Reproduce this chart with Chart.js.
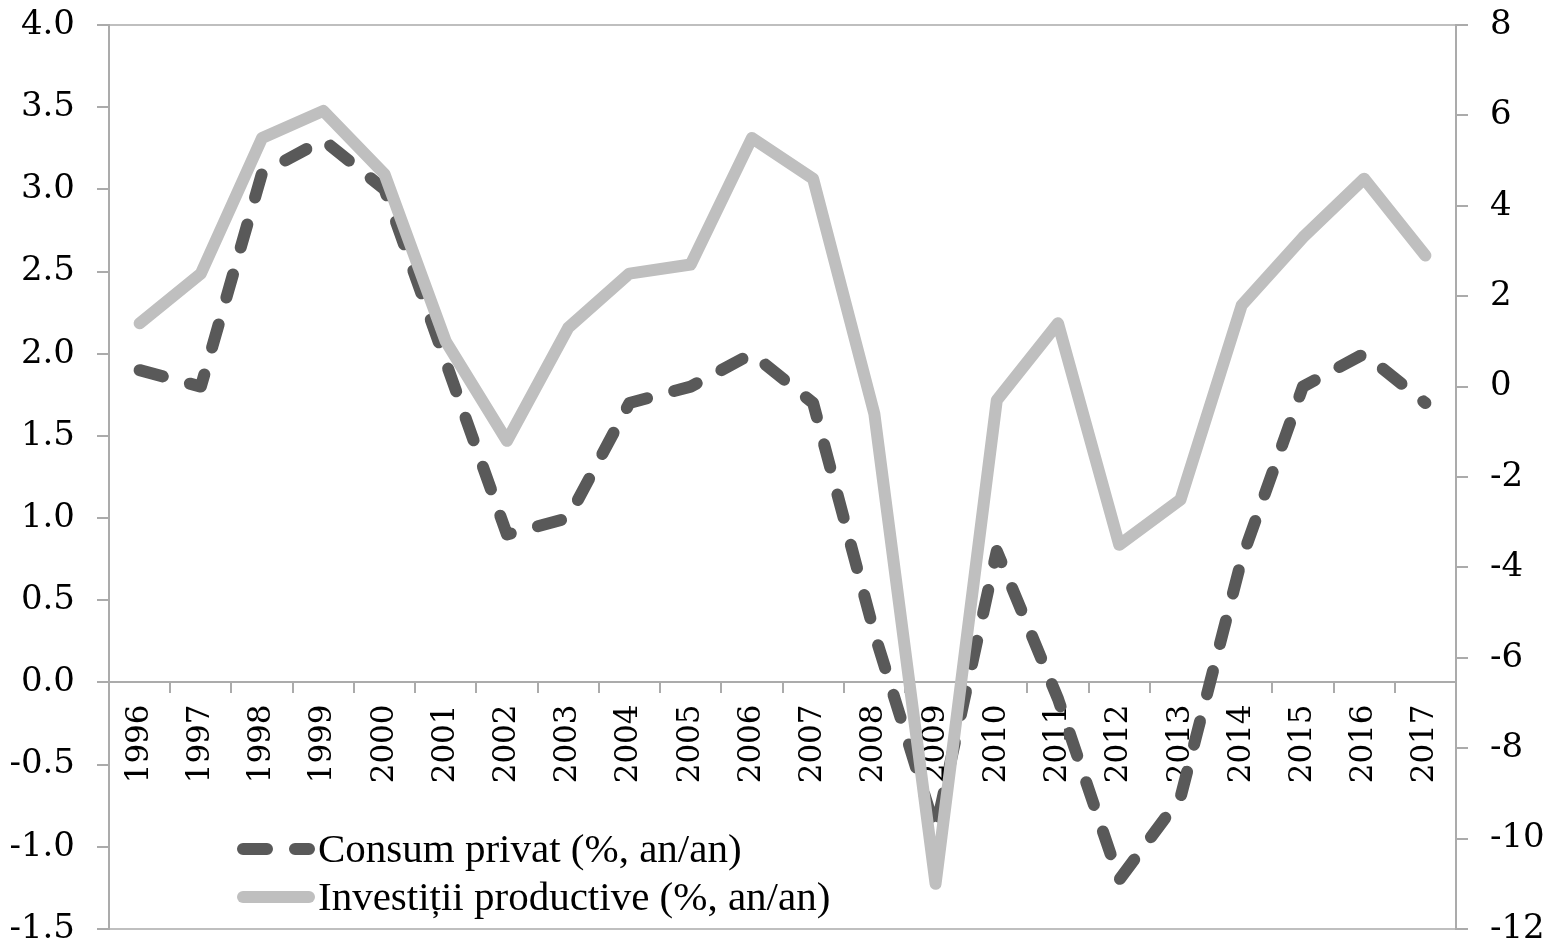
<!DOCTYPE html>
<html>
<head>
<meta charset="utf-8">
<script src="https://cdn.jsdelivr.net/npm/chart.js@4"></script>
<style>
  html, body { margin: 0; padding: 0; background: #fff; }
  #wrap { width: 1543px; height: 949px; position: relative; }
</style>
</head>
<body>
<div id="wrap"><canvas id="chart"></canvas></div>
<script>
// data
const years = ['1996', '1997', '1998', '1999', '2000', '2001', '2002', '2003', '2004', '2005', '2006',
               '2007', '2008', '2009', '2010', '2011', '2012', '2013', '2014', '2015', '2016', '2017'];
const consumPrivat = [1.9, 1.8, 3.1, 3.3, 3.0, 1.95, 0.9, 1.0, 1.7, 1.8, 2.0,
                      1.7, 0.3, -0.9, 0.8, -0.1, -1.2, -0.7, 0.75, 1.8, 2.0, 1.7];
const investitii = [1.4, 2.5, 5.5, 6.1, 4.7, 1.0, -1.2, 1.3, 2.5, 2.7, 5.5,
                    4.6, -0.6, -11.0, -0.3, 1.4, -3.5, -2.5, 1.8, 3.3, 4.6, 2.9];
const seriesNames = ['Consum privat (%, an/an)', 'Investiții productive (%, an/an)'];
const leftAxis = { min: -1.5, max: 4.0, step: 0.5 };
const rightAxis = { min: -12, max: 8, step: 2 };

const axisGray = '#ababab';
const serif = 'DejaVu Serif, Liberation Serif, serif';
const yTickFont = { family: serif, size: 34, lineHeight: 1 };
const xTickFont = { family: serif, size: 31, lineHeight: 1 };

// fixed axis widths, and no extra vertical padding from the tick labels
function fixWidth(w) {
    return scale => {
        scale.width = w;
        scale.paddingTop = 0;
        scale.paddingBottom = 0;
    };
}

// legend drawn inside the plot, bottom left
const insideLegend = {
    id: 'insideLegend',
    afterDraw(chart) {
        const ctx = chart.ctx;
        const baselines = [862, 910];
        chart.data.datasets.forEach((ds, i) => {
            const y = baselines[i] - 13;
            ctx.save();
            ctx.strokeStyle = ds.borderColor;
            ctx.lineWidth = ds.borderWidth;
            ctx.lineCap = 'round';
            ctx.setLineDash(ds.borderDash || []);
            ctx.beginPath();
            ctx.moveTo(243, y);
            ctx.lineTo(309, y);
            ctx.stroke();
            ctx.setLineDash([]);
            ctx.fillStyle = '#000';
            ctx.font = '41px "Liberation Serif", serif';
            ctx.textBaseline = 'alphabetic';
            ctx.fillText(ds.label, 318, baselines[i]);
            ctx.restore();
        });
    }
};

const ctx = document.getElementById('chart').getContext('2d');
new Chart(ctx, {
    type: 'line',
    data: {
        labels: years,
        datasets: [{
            label: seriesNames[0],
            data: consumPrivat,
            yAxisID: 'y',
            borderColor: '#595959',
            borderWidth: 12,
            borderDash: [24, 28],
            borderCapStyle: 'round',
            borderJoinStyle: 'round',
            pointRadius: 0,
            tension: 0,
            order: 2
        }, {
            label: seriesNames[1],
            data: investitii,
            yAxisID: 'y2',
            borderColor: '#bfbfbf',
            borderWidth: 12,
            borderCapStyle: 'round',
            borderJoinStyle: 'round',
            pointRadius: 0,
            tension: 0,
            order: 1
        }]
    },
    options: {
        responsive: true,
        maintainAspectRatio: false,
        animation: false,
        layout: { padding: { top: 25, bottom: 20, left: 0, right: 0 } },
        scales: {
            x: {
                position: { y: 0 },
                offset: true,
                border: { color: axisGray, width: 2 },
                grid: {
                    offset: true,
                    drawOnChartArea: false,
                    tickLength: 10,
                    tickColor: axisGray,
                    lineWidth: 2
                },
                ticks: {
                    minRotation: 90,
                    maxRotation: 90,
                    autoSkip: false,
                    padding: 12,
                    color: '#000',
                    font: xTickFont
                }
            },
            y: {
                position: 'left',
                min: leftAxis.min,
                max: leftAxis.max,
                afterFit: fixWidth(109),
                border: { color: axisGray, width: 2 },
                grid: {
                    color: c => (c.index === 0 || c.index === c.scale.ticks.length - 1) ? '#bfbfbf' : 'rgba(0,0,0,0)',
                    lineWidth: 2,
                    tickLength: 12,
                    tickColor: axisGray
                },
                ticks: {
                    stepSize: leftAxis.step,
                    padding: 22,
                    color: '#000',
                    font: yTickFont,
                    callback: v => v.toFixed(1)
                }
            },
            y2: {
                position: 'right',
                min: rightAxis.min,
                max: rightAxis.max,
                afterFit: fixWidth(87),
                border: { color: axisGray, width: 2 },
                grid: {
                    drawOnChartArea: false,
                    lineWidth: 2,
                    tickLength: 12,
                    tickColor: axisGray
                },
                ticks: {
                    stepSize: rightAxis.step,
                    padding: 22,
                    color: '#000',
                    font: yTickFont
                }
            }
        },
        plugins: {
            legend: { display: false },
            tooltip: { enabled: false }
        }
    },
    plugins: [insideLegend]
});
</script>
</body>
</html>
